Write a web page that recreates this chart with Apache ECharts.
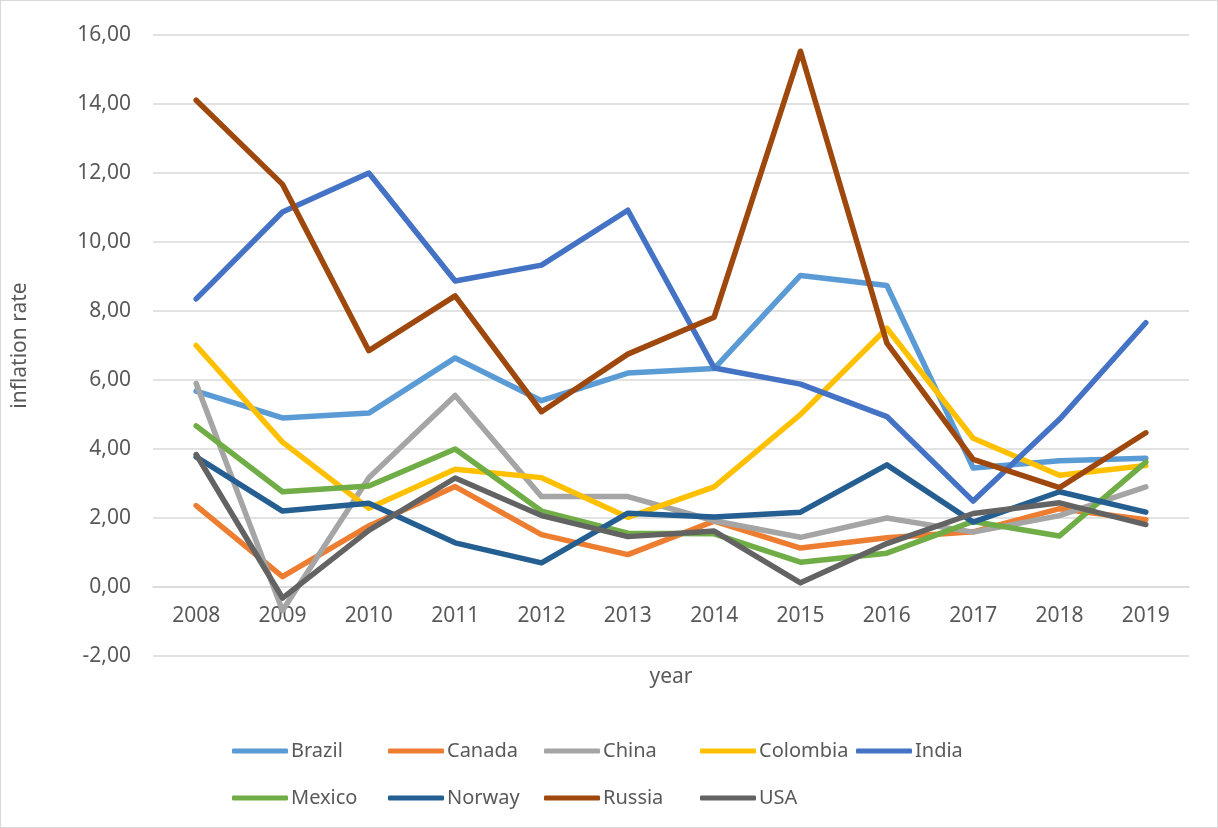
<!DOCTYPE html>
<html>
	<head>
		<meta charset="utf-8" />
		<title>inflation rate</title>
		<style>
			html, body { margin: 0; padding: 0; background: #fff; }
			#chart { width: 1216px; height: 826px; border: 1px solid #d9d9d9; }
		</style>
	</head>
	<body>
		<div id="chart"></div>
	</body>
	<script src="https://cdn.jsdelivr.net/npm/echarts@6/dist/echarts.min.js" type="text/javascript" charset="utf-8"></script>
	<script type="text/javascript">
		var years = ["2008","2009","2010","2011","2012","2013","2014","2015","2016","2017","2018","2019"];
		var countries = ["Brazil","Canada","China","Colombia","India","Mexico","Norway","Russia","USA"];
		var colors = ["#5B9BD5","#ED7D31","#A5A5A5","#FFC000","#4472C4","#70AD47","#255E91","#9E480E","#636363"];

		var brazil   = [5.68, 4.90, 5.04, 6.64, 5.40, 6.20, 6.33, 9.03, 8.74, 3.45, 3.66, 3.73];
		var canada   = [2.36, 0.30, 1.77, 2.91, 1.52, 0.94, 1.91, 1.13, 1.43, 1.60, 2.27, 1.95];
		var china    = [5.90, -0.68, 3.17, 5.55, 2.62, 2.62, 1.92, 1.44, 2.00, 1.59, 2.07, 2.90];
		var colombia = [7.00, 4.20, 2.28, 3.41, 3.17, 2.02, 2.90, 5.00, 7.50, 4.31, 3.24, 3.52];
		var india    = [8.35, 10.87, 12.00, 8.87, 9.33, 10.92, 6.35, 5.88, 4.94, 2.49, 4.86, 7.66];
		var mexico   = [4.67, 2.76, 2.93, 4.00, 2.20, 1.56, 1.54, 0.72, 0.98, 1.90, 1.48, 3.62];
		var norway   = [3.77, 2.20, 2.43, 1.28, 0.70, 2.14, 2.03, 2.17, 3.54, 1.88, 2.76, 2.17];
		var russia   = [14.11, 11.67, 6.85, 8.44, 5.08, 6.75, 7.82, 15.53, 7.07, 3.70, 2.88, 4.47];
		var usa      = [3.84, -0.32, 1.64, 3.16, 2.07, 1.46, 1.62, 0.12, 1.26, 2.13, 2.44, 1.81];

		var values = [brazil, canada, china, colombia, india, mexico, norway, russia, usa];

		var font = "'Noto Sans', 'Open Sans', sans-serif";
		var grey = "#595959";

		var series = [];
		for (var i = 0; i < countries.length; i++) {
			series.push({
				name: countries[i],
				type: 'line',
				data: values[i],
				symbol: 'none',
				lineStyle: { width: 5.5, color: colors[i], cap: 'round', join: 'round' },
				itemStyle: { color: colors[i] }
			});
		}

		// one legend per item, 5 per row, fixed pitch like the excel legend
		var legends = [];
		for (var k = 0; k < countries.length; k++) {
			legends.push({
				data: [countries[k]],
				left: 226 + (k % 5) * 156,
				top: k < 5 ? 735 : 782,
				itemWidth: 56, itemHeight: 5,
				icon: 'roundRect',
				textStyle: { color: grey, fontSize: 20, fontFamily: font, padding: [0, 0, 0, -2] }
			});
		}

		var myChart = echarts.init(document.getElementById('chart'));
		var option = {
			animation: false,
			color: colors,
			grid: { left: 152, right: 28, top: 34, bottom: 171, containLabel: false },
			xAxis: {
				type: 'category',
				data: years,
				name: 'year',
				nameLocation: 'middle',
				nameGap: 80,
				offset: -69,
				nameTextStyle: { color: grey, fontSize: 21, fontFamily: font },
				axisLine: { show: true, onZero: false, lineStyle: { color: '#d9d9d9', width: 1.5 } },
				axisTick: { show: false },
				axisLabel: { color: grey, fontSize: 21, fontFamily: font, margin: 19 }
			},
			yAxis: {
				type: 'value',
				min: -2,
				max: 16,
				interval: 2,
				name: 'inflation rate',
				nameLocation: 'middle',
				nameGap: 122,
				nameTextStyle: { color: grey, fontSize: 21, fontFamily: font },
				axisLine: { show: false },
				axisTick: { show: false },
				splitLine: { lineStyle: { color: '#d9d9d9', width: 1.5 } },
				axisLabel: {
					color: grey, fontSize: 21, fontFamily: font, margin: 22,
					formatter: function (v) { return v.toFixed(2).replace('.', ','); }
				}
			},
			legend: legends,
			series: series
		};
		myChart.setOption(option);
	</script>
</html>
